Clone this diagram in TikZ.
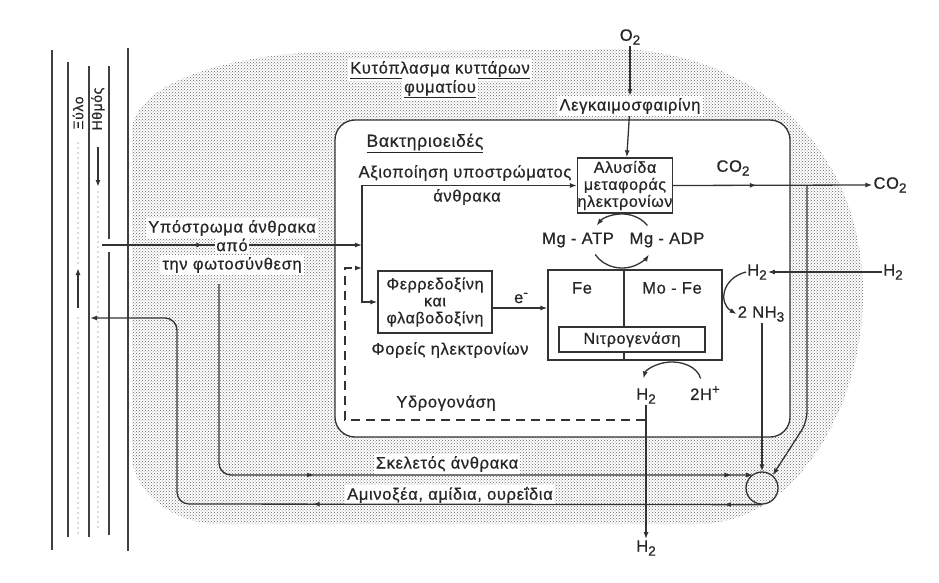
\documentclass[tikz,border=0pt]{standalone}
\usepackage{fontspec}
\setmainfont{Liberation Sans}[LetterSpace=4, FakeBold=0.6]
\usetikzlibrary{arrows.meta,decorations.markings,patterns}
\newcommand{\mysub}[1]{\raisebox{-0.45ex}{\fontsize{13.5}{13.5}\selectfont #1}}
\newcommand{\mysup}[1]{\raisebox{0.7ex}{\fontsize{13.5}{13.5}\selectfont #1}}
\begin{document}
\begin{tikzpicture}[x=1pt,y=-1pt,
  every node/.style={font=\fontsize{16.5}{18}\selectfont, text=black!85, inner sep=1pt},
  >={Latex[length=7pt,width=5pt]},
  line/.style={draw=black!80, line width=1.3pt},
  vessel/.style={draw=black!75, line width=1.3pt},
  dots/.style={draw=black!60, line width=1.4pt, line cap=round, dash pattern=on 0pt off 5pt},
  box/.style={draw=black!80, line width=1.3pt, align=center, inner sep=0pt, font=\fontsize{16}{17}\selectfont},
  lab/.style={align=center},
  wlab/.style={fill=white, align=center, inner sep=2pt},
  midarrow/.style={postaction={decorate}, decoration={markings, mark=at position #1 with {\arrow{Latex[length=7pt,width=5pt]}}}},
  twoarrows/.style 2 args={postaction={decorate}, decoration={markings,
     mark=at position #1 with {\arrow{Latex[length=7pt,width=5pt]}},
     mark=at position #2 with {\arrow{Latex[length=7pt,width=5pt]}}}},
]
\fill[white] (0,0) rectangle (939,583);
\useasboundingbox (0,0) rectangle (939,583);

% cytoplasm (shaded blob)
\fill[pattern=crosshatch dots, pattern color=black!60]
  (132,130) .. controls (135,85) and (220,56) .. (320,52) -- (620,49)
  .. controls (760,54) and (861,150) .. (863,290)
  .. controls (865,400) and (800,522) .. (700,524) -- (215,524)
  .. controls (170,522) and (132,490) .. (132,455) -- cycle;

% bacteroid
\draw[line, fill=white, rounded corners=20pt] (335,120) rectangle (790,437);

% vessels
\draw[vessel] (52,50) -- (52,550);
\draw[vessel] (68,62) -- (68,537);
\draw[vessel] (89,66) -- (89,537);
\draw[vessel] (109,66) -- (109,239);
\draw[vessel] (109,252) -- (109,535);
\draw[vessel] (128,48) -- (128,551);
\draw[dots] (78,143) -- (78,266);
\draw[dots] (78,318) -- (78,533);
\draw[dots] (98,192) -- (98,530);
\draw[line,->,line width=1.6pt] (98,147) -- (98,187);
\draw[line,->,line width=1.6pt] (78,308) -- (78,268);
\node[rotate=90, font=\fontsize{14}{15}\selectfont] (xyl) at (78,113) {Ξύλο};
\node[rotate=90, font=\fontsize{14}{15}\selectfont] (phl) at (98,109) {Ηθμός};

% labels
\node[wlab] (kyt1) at (440,70) {\underline{Κυτόπλασμα κυττάρων}};
\node[wlab] (kyt2) at (440,89) {\underline{φυματίου}};
\node[lab] (o2) at (630,37) {O\mysub{2}};
\node[wlab] (leg) at (630,106) {Λεγκαιμοσφαιρίνη};
\node[lab, font=\fontsize{17.5}{19}\selectfont] (bakt) at (425,143) {\underline{Βακτηριοειδές}};
\node[lab] (axio) at (465,173) {Αξιοποίηση υποστρώματος};
\node[lab] (anth) at (467,197) {άνθρακα};
\node[box, minimum width=94pt, minimum height=55pt] (alys) at (625,185.5) {Αλυσίδα\\μεταφοράς\\ηλεκτρονίων};
\node[box, minimum width=114pt, minimum height=62pt] (ferr) at (435,302) {Φερρεδοξίνη\\και\\φλαβοδοξίνη};
\node[box, minimum width=174pt, minimum height=90pt] (nit) at (635,315) {};
\node[box, fill=white, minimum width=146pt, minimum height=25pt] (nitin) at (632,339.5) {Νιτρογενάση};
\node[lab] (fe) at (582,288) {Fe};
\node[lab] (mofe) at (672,288) {Mo - Fe};
\node[lab] (atp) at (578,240) {Mg - ATP};
\node[lab] (adp) at (667,240) {Mg - ADP};
\node[lab] (el) at (521,298) {e\mysup{-}};
\node[lab] (fore) at (450,350) {Φορείς ηλεκτρονίων};
\node[lab] (ydro) at (446,403) {Υδρογονάση};
\node[lab] (co2i) at (733,168) {CO\mysub{2}};
\node[lab] (co2o) at (890,185) {CO\mysub{2}};
\node[lab] (h2r) at (893,272) {H\mysub{2}};
\node[lab] (h2l) at (757,272) {H\mysub{2}};
\node[lab] (nh3) at (761,314) {2 NH\mysub{3}};
\node[lab] (h2n) at (646,396) {H\mysub{2}};
\node[lab] (hp) at (705,393) {2H\mysup{+}};
\node[lab] (h2b) at (646,548) {H\mysub{2}};
\node[wlab] (skel) at (447,464) {Σκελετός άνθρακα};
\node[wlab] (amin) at (450,495) {Αμινοξέα, αμίδια, ουρεΐδια};
\node[wlab] (ypo1) at (232,228) {Υπόστρωμα άνθρακα};
\node[wlab] (ypo3) at (232,265) {την φωτοσύνθεση};
\node[circle, draw=black!80, line width=1.3pt, minimum size=32pt, inner sep=0pt] (circ) at (762,488) {};

% nitrogenase divider
\draw[line] (624,270) -- (624,327);
\draw[line] (624,352) -- (624,360);

% coordinates
\coordinate (phs) at (102,245);
\coordinate (j) at (362,245);
\coordinate (br) at (807,185.5);
\coordinate (brk) at (807,422);
\coordinate (dh) at (645,420);
\coordinate (dl) at (345,420);
\coordinate (du) at (345,268);
\coordinate (dm) at (355,268);
\coordinate (de) at (362,268);
\coordinate (sk0) at (219,284);
\coordinate (sk1) at (219,475);
\coordinate (sk2) at (753,475);
\coordinate (am1) at (177,504);
\coordinate (am2) at (177,318);
\coordinate (am3) at (90,318);

% connectors
\draw[line,->] (o2) -- (leg);
\draw[line,->] (leg) -- (alys);
\draw[line,->,midarrow=0.42] (alys.east) -- (co2o.west);
\draw[line,->,rounded corners=10pt] (br) -- (brk) -- (circ.50);
\draw[line,->] (h2r) -- (h2l);
\draw[line,->] (h2l.west) .. controls (722,278) and (718,303) .. (nh3.west);
\draw[line,->] (circ.north |- nh3.south) -- (circ.north);
\draw[line,<-] (596.6,225.5) arc[start angle=215, end angle=325, x radius=31, y radius=27];
\draw[line,->] (595.2,254.5) arc[start angle=150, end angle=30, x radius=31, y radius=27];
\draw[line,->] ([yshift=-6pt]ferr.east) -- ([yshift=-6pt]ferr.east -| nit.west);
\draw[line,->,midarrow=0.39] (phs) -- (j);
\draw[line,->] (j) |- (alys.west);
\draw[line,->] (j) |- (ferr.west);
\draw[line,dashed,dash pattern=on 9pt off 6pt] (dh) -- (dl) -- (du) -- (dm);
\draw[line,->] (dm) -- (de);
\draw[line,->] (700.6,378.5) arc[start angle=-10, end angle=-170, x radius=29, y radius=20];
\draw[line,->] (h2n) -- (h2b);
\draw[line,->,rounded corners=12pt,twoarrows={0.39}{0.97}] (sk0) -- (sk1) -- (sk2);
\draw[line,->,rounded corners=12pt,twoarrows={0.045}{0.53}] (circ.south) -- (am1) -- (am2) -- (am3);

\node[wlab, inner sep=1.5pt] (ypo2) at (232,245) {από};
\end{tikzpicture}
\end{document}
